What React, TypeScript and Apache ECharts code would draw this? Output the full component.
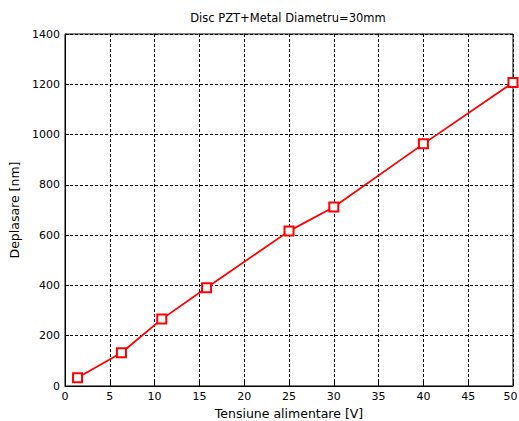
import React, { useEffect, useRef } from "react";
import * as echarts from "echarts";

const titleText = "Disc PZT+Metal Diametru=30mm";
const xName = "Tensiune alimentare [V]";
const yName = "Deplasare [nm]";
const voltage = [1.4, 6.3, 10.8, 15.8, 25, 30, 40, 50];
const displacement = [33, 132, 266, 391, 616, 712, 963, 1207];

const FONT = "DejaVu Sans, Liberation Sans, sans-serif";
const FS = 11;
const NAME_FS = 12.5;

export default function App() {
  const ref = useRef<HTMLDivElement>(null);
  useEffect(() => {
    if (!ref.current) return;
    const chart = echarts.init(ref.current, undefined, { renderer: "svg" });
    const data = voltage.map((v, i) => [v, displacement[i]]);
    chart.setOption({
      animation: false,
      backgroundColor: "#ffffff",
      textStyle: { fontFamily: FONT },
      graphic: [
        {
          type: "text",
          x: 288,
          y: 18,
          style: {
            text: titleText,
            fontFamily: FONT,
            fontSize: 11.5,
            fill: "#000",
            align: "center",
            verticalAlign: "middle",
          },
        },
      ],
      grid: {
        left: 65,
        right: 6,
        top: 34,
        bottom: 35,
        outerBoundsMode: "none",
        containLabel: false,
        show: true,
        borderColor: "#000",
        borderWidth: 1,
        backgroundColor: "#fff",
      },
      xAxis: {
        type: "value",
        min: 0,
        max: 50,
        interval: 5,
        name: xName,
        nameLocation: "middle",
        nameGap: 19,
        nameTextStyle: { fontFamily: FONT, fontSize: NAME_FS, color: "#000" },
        axisLine: { show: true, lineStyle: { color: "#000", width: 1 } },
        axisTick: { show: true, inside: true, length: 4, lineStyle: { color: "#000" } },
        axisLabel: {
          fontFamily: FONT,
          fontSize: FS,
          color: "#000",
          margin: 5,
          formatter: (v: number) => (v === 50 ? "{r|50}" : String(v)),
          rich: { r: { fontFamily: FONT, fontSize: FS, color: "#000", padding: [0, 5, 0, 0] } },
        },
        splitLine: { show: true, lineStyle: { color: "#000", type: [3, 2], width: 1 } },
      },
      yAxis: {
        type: "value",
        min: 0,
        max: 1400,
        interval: 200,
        name: yName,
        nameLocation: "middle",
        nameGap: 41,
        nameTextStyle: { fontFamily: FONT, fontSize: NAME_FS, color: "#000" },
        axisLine: { show: true, lineStyle: { color: "#000", width: 1 } },
        axisTick: { show: true, inside: true, length: 4, lineStyle: { color: "#000" } },
        axisLabel: {
          fontFamily: FONT,
          fontSize: FS,
          color: "#000",
          margin: 5,
          formatter: (v: number) => String(v),
        },
        splitLine: { show: true, lineStyle: { color: "#000", type: [3, 2], width: 1 } },
      },
      series: [
        {
          type: "line",
          data,
          symbol: "emptyRect",
          symbolSize: 9,
          showAllSymbol: true,
          lineStyle: { color: "#ff0000", width: 1.8 },
          itemStyle: { color: "#ff0000", borderColor: "#ff0000", borderWidth: 1.8 },
        },
      ],
    });
    return () => chart.dispose();
  }, []);
  return (
    <div
      ref={ref}
      style={{ position: "absolute", left: 0, top: 0, width: 519, height: 421 }}
    />
  );
}
